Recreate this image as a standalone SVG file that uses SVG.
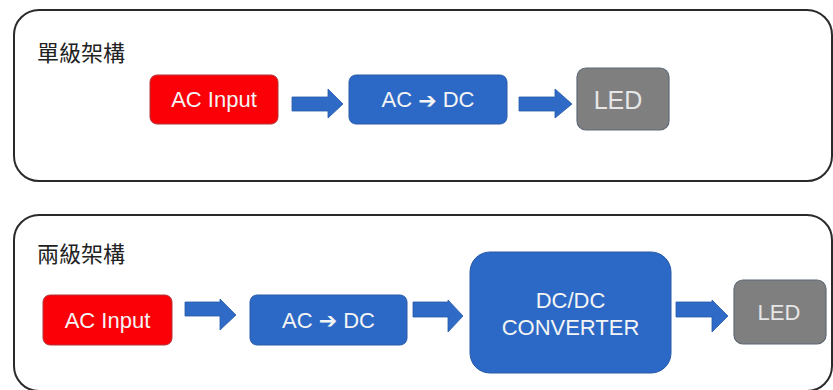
<svg xmlns="http://www.w3.org/2000/svg" width="833" height="390" viewBox="0 0 833 390">
<style>
.panel{fill:#ffffff;stroke:#2a2a2a;stroke-width:2}
.title{font-family:"Noto Sans CJK TC","Noto Sans CJK SC",serif;font-size:22px;fill:#222}
.lbl{font-family:"Liberation Sans",Arial,sans-serif;font-size:22px;text-anchor:middle;dominant-baseline:central}
.red{fill:#fb0007;stroke:#b0353a;stroke-width:1}
.blue{fill:#2c69c6;stroke:#2a5ba8;stroke-width:1}
.gray{fill:#7f7f7f;stroke:#5f6a78;stroke-width:1.2}
.wt{fill:#f4f4f4}
.lt{fill:#e6e6e6}
.arr{fill:#2f6bc6;stroke:#2558a8;stroke-width:0.8}
.sym{font-family:"DejaVu Sans",sans-serif;font-size:22px}
</style>
<rect width="833" height="390" fill="#ffffff"/>
<g id="panel-single">
<rect class="panel" x="14" y="10" width="818" height="171" rx="25"/>
<text class="title" x="37" y="61">單級架構</text>
</g>
<g id="panel-two">
<rect class="panel" x="14" y="215" width="818" height="176" rx="25"/>
<text class="title" x="37" y="262">兩級架構</text>
</g>
<g id="s-ac-input">
<rect class="red" x="150" y="75" width="128" height="49" rx="7"/>
<text class="lbl wt" x="214" y="99.5">AC Input</text>
</g>
<g id="s-ac-dc">
<rect class="blue" x="349" y="75" width="158" height="49" rx="7"/>
<text class="lbl wt" x="428" y="99.5">AC <tspan class="sym">➔</tspan> DC</text>
</g>
<g id="s-led">
<rect class="gray" x="577" y="68" width="92" height="62" rx="9"/>
<text class="lbl lt" x="618" y="99.5" style="font-size:25px">LED</text>
</g>
<g id="t-ac-input">
<rect class="red" x="43" y="295" width="129" height="50" rx="7"/>
<text class="lbl wt" x="107.5" y="320">AC Input</text>
</g>
<g id="t-ac-dc">
<rect class="blue" x="250" y="295" width="157" height="50" rx="7"/>
<text class="lbl wt" x="328.5" y="320">AC <tspan class="sym">➔</tspan> DC</text>
</g>
<g id="t-dcdc">
<rect class="blue" x="470" y="252" width="201" height="121" rx="20"/>
<text class="lbl wt" x="570.5" y="300">DC/DC</text>
<text class="lbl wt" x="570.5" y="327">CONVERTER</text>
</g>
<g id="t-led">
<rect class="gray" x="734" y="280" width="92" height="64" rx="9"/>
<text class="lbl lt" x="779" y="312">LED</text>
</g>
<g id="connectors">
<polygon class="arr" points="292,97 328,97 328,89 343,104 328,118 328,111 292,111"/>
<polygon class="arr" points="519,97 555,97 555,89 572,104 555,118 555,111 519,111"/>
<polygon class="arr" points="185,302 220,302 220,299 236,315 220,330 220,316 185,316"/>
<polygon class="arr" points="413,302 448,302 448,300 463,316 448,332 448,317 413,317"/>
<polygon class="arr" points="676,302 712,302 712,300 728,316 712,332 712,317 676,317"/>
</g>
</svg>
